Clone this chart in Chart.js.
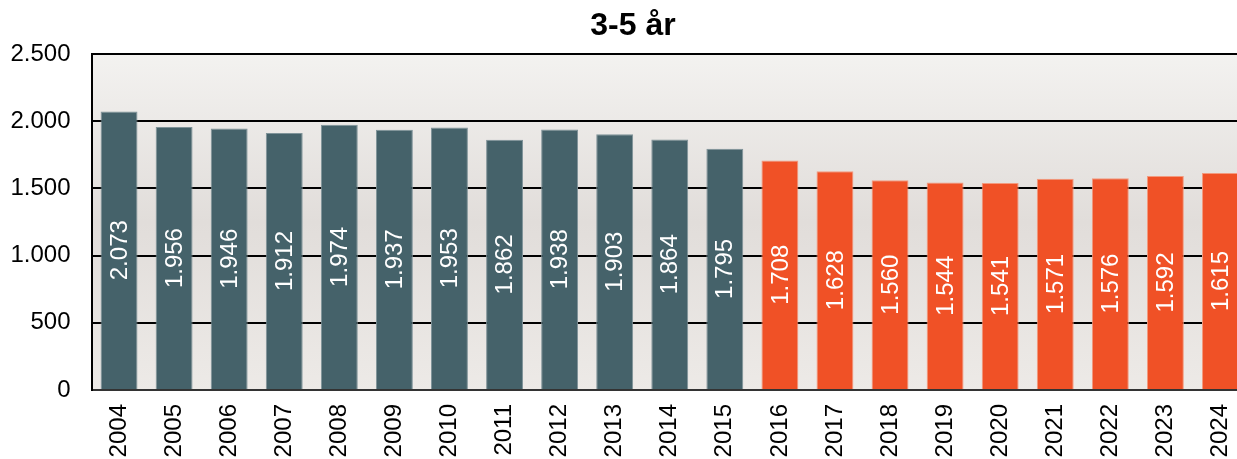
<!DOCTYPE html>
<html>
<head>
<meta charset="utf-8">
<script src="https://cdn.jsdelivr.net/npm/chart.js@4"></script>
<style>
  body { margin: 0; overflow: hidden; background: #fff; }
  canvas { display: block; }
</style>
</head>
<body>
<canvas id="chart" width="1248" height="459"></canvas>
<script>
// data
const years = ["2004","2005","2006","2007","2008","2009","2010","2011","2012","2013","2014",
               "2015","2016","2017","2018","2019","2020","2021","2022","2023","2024"];
const children = [2073,1956,1946,1912,1974,1937,1953,1862,1938,1903,1864,
                  1795,1708,1628,1560,1544,1541,1571,1576,1592,1615];
const yTicks = [0, 500, 1000, 1500, 2000, 2500];
const firstForecastYear = "2016";

const font = 'Arial, Helvetica, sans-serif';
const fmt = v => String(v).replace(/\B(?=(\d{3})+(?!\d))/g, '.');

const cutoff = years.indexOf(firstForecastYear);
const barColors = years.map((y, i) => i < cutoff ? '#45626A' : '#F05126');
const edgeColors = years.map((y, i) => i < cutoff ? '#7F9399' : '#F39A7E');

// plot background gradient
const bgPlugin = {
    id: 'bg',
    beforeDraw(chart) {
        const a = chart.chartArea, ctx = chart.ctx;
        const g = ctx.createLinearGradient(0, a.top, 0, a.bottom);
        g.addColorStop(0, '#F3F2F0');
        g.addColorStop(0.5, '#E1DDDA');
        g.addColorStop(1, '#EDEAE7');
        ctx.save();
        ctx.fillStyle = g;
        ctx.fillRect(a.left, a.top, a.right - a.left, a.bottom - a.top);
        ctx.restore();
    }
};

// rotated value labels inside bars
const labelPlugin = {
    id: 'vals',
    afterDatasetsDraw(chart) {
        const ctx = chart.ctx;
        const meta = chart.getDatasetMeta(0);
        ctx.save();
        ctx.fillStyle = '#fff';
        ctx.font = '24px ' + font;
        ctx.textAlign = 'center';
        ctx.textBaseline = 'middle';
        meta.data.forEach((bar, i) => {
            ctx.save();
            ctx.translate(bar.x, (bar.y + bar.base) / 2);
            ctx.rotate(-Math.PI / 2);
            ctx.fillText(fmt(children[i]), 0, 1);
            ctx.restore();
        });
        ctx.restore();
    }
};

new Chart(document.getElementById("chart"), {
    type: 'bar',
    data: {
        labels: years,
        datasets: [{
            data: children,
            backgroundColor: barColors,
            borderColor: edgeColors,
            borderWidth: 1,
            barPercentage: 0.67,
            categoryPercentage: 1
        }]
    },
    options: {
        responsive: false,
        animation: false,
        devicePixelRatio: 1,
        layout: { padding: { left: 18, right: 0, top: 0, bottom: 0 } },
        plugins: {
            legend: { display: false },
            tooltip: { enabled: false },
            title: {
                display: true,
                text: '3-5 år',
                color: '#000',
                font: { family: font, size: 32, weight: 'bold', lineHeight: 1.2 },
                padding: { top: 7, bottom: 8.6 }
            }
        },
        scales: {
            x: {
                grid: { display: false, drawTicks: false },
                border: { display: true, color: '#333', width: 2 },
                ticks: {
                    color: '#000',
                    font: { family: font, size: 24 },
                    minRotation: 90,
                    maxRotation: 90,
                    padding: 14,
                    autoSkip: false
                },
                afterFit(s) { s.height = 69; s.paddingLeft = 0; s.paddingRight = 0; }
            },
            y: {
                min: 0,
                max: 2500,
                afterBuildTicks(s) { s.ticks = yTicks.map(v => ({ value: v })); },
                grid: {
                    drawTicks: false,
                    color: c => c.tick && c.tick.value === 0 ? '#333' : '#000',
                    lineWidth: 2
                },
                border: { display: true, color: '#000', width: 2 },
                ticks: {
                    color: '#000',
                    font: { family: font, size: 24 },
                    padding: 21,
                    callback: v => fmt(v)
                },
                afterFit(s) {
                    s.width = 73.5;
                    s.paddingTop = 0;
                    s.paddingBottom = 0;
                    // labels stick out past the left padding, don't clip them
                    s._computeLabelArea = () => null;
                }
            }
        }
    },
    plugins: [bgPlugin, labelPlugin]
});
</script>
</body>
</html>
